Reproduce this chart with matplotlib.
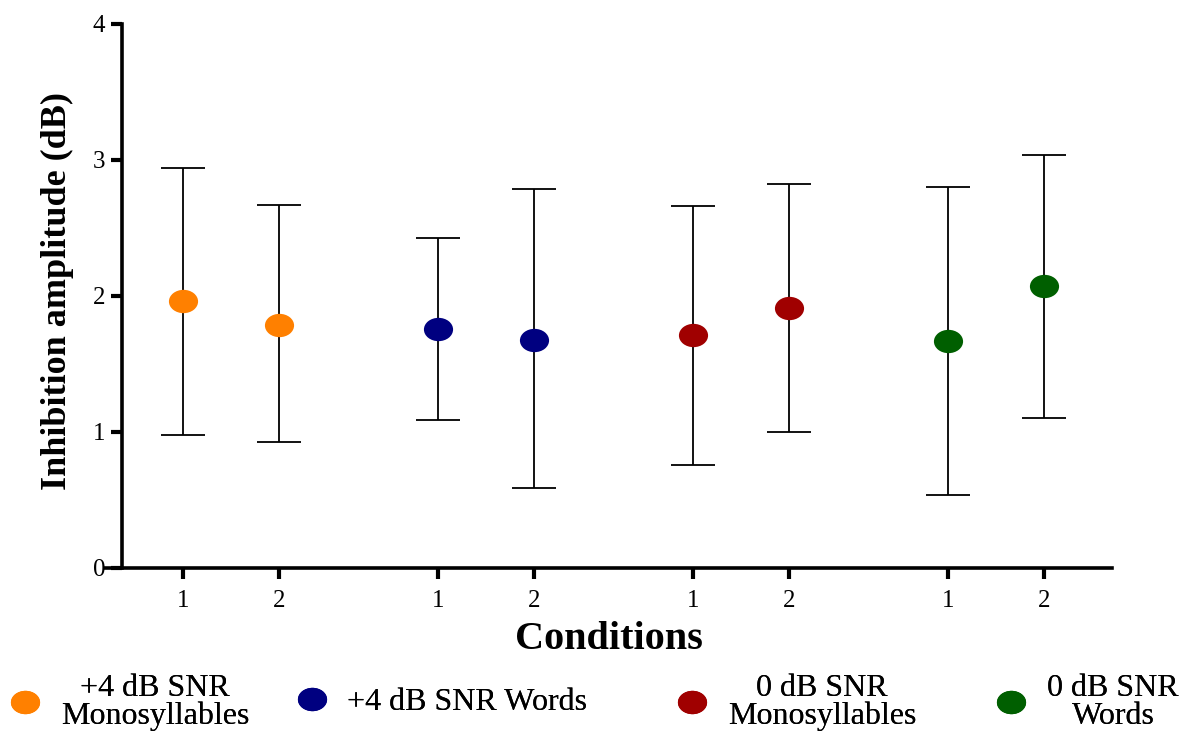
import matplotlib
matplotlib.use('Agg')
import matplotlib.pyplot as plt
import numpy as np
from matplotlib.path import Path
from matplotlib.transforms import Affine2D

plt.rcParams['font.family'] = ['Liberation Serif', 'DejaVu Serif']

# Data
conditions = ['1', '2']
series = ['+4 dB SNR\nMonosyllables', '+4 dB SNR Words',
          '0 dB SNR\nMonosyllables', '0 dB SNR\nWords']
colors = ['#FF8000', '#000080', '#A00000', '#005F00']
means = [[1.96, 1.79], [1.76, 1.68], [1.71, 1.91], [1.67, 2.07]]
upper = [[2.94, 2.67], [2.43, 2.79], [2.66, 2.82], [2.80, 3.04]]
lower = [[0.98, 0.93], [1.09, 0.59], [0.76, 1.00], [0.54, 1.10]]

# ellipse marker (a bit wider than tall)
ellipse = Path.unit_circle().transformed(Affine2D().scale(1.0, 0.8))

fig = plt.figure(figsize=(11.9, 7.33), dpi=100)
ax = fig.add_axes([105 / 1190, 1 - 568 / 733, 1007 / 1190, 544 / 733])

gap = 2.656
base = 0.8125
xticks, xlabels = [], []
handles = []
for g, name in enumerate(series):
    xs = base + g * gap + np.arange(len(conditions))
    m = np.array(means[g])
    err = [m - np.array(lower[g]), np.array(upper[g]) - m]
    ax.errorbar(xs, m, yerr=err, fmt='none', ecolor='black', elinewidth=1.3,
                capsize=16, capthick=1.3, zorder=2)
    h = ax.plot(xs, m, linestyle='none', marker=ellipse, markersize=21,
                color=colors[g], markeredgewidth=0, zorder=3, label=name)[0]
    handles.append(h)
    xticks.extend(xs)
    xlabels.extend(conditions)

ax.set_xlim(0, 1007 / 96)
ax.set_ylim(0, 4)
ax.set_xticks(xticks)
ax.set_xticklabels(xlabels)
ax.set_yticks([0, 1, 2, 3, 4])
ax.tick_params(axis='both', direction='out', length=8, width=3, labelsize=18, pad=8)
ax.tick_params(axis='y', pad=4)

ax.spines['top'].set_visible(False)
ax.spines['right'].set_visible(False)
ax.spines['left'].set_position(('data', 17 / 96))
ax.spines['left'].set_linewidth(2.6)
ax.spines['bottom'].set_linewidth(2.6)

ax.set_ylabel('Inhibition amplitude (dB)', fontsize=26, fontweight='bold')
ax.yaxis.set_label_coords(-0.031, 0.51)
ax.set_xlabel('Conditions', fontsize=29, fontweight='bold', labelpad=6)

# legend along the bottom
leg_x = [0.0, 0.241, 0.5605, 0.829]
for h, lx in zip(handles, leg_x):
    leg = fig.legend(handles=[h], loc='center left', bbox_to_anchor=(lx, 0.042),
                     frameon=False, fontsize=23, handletextpad=0.75,
                     handlelength=0.75, borderaxespad=0)
    for t in leg.get_texts():
        t.set_multialignment('center')
        t.set_linespacing(0.95)
    fig.add_artist(leg)

fig.savefig('out.png', dpi=100)
